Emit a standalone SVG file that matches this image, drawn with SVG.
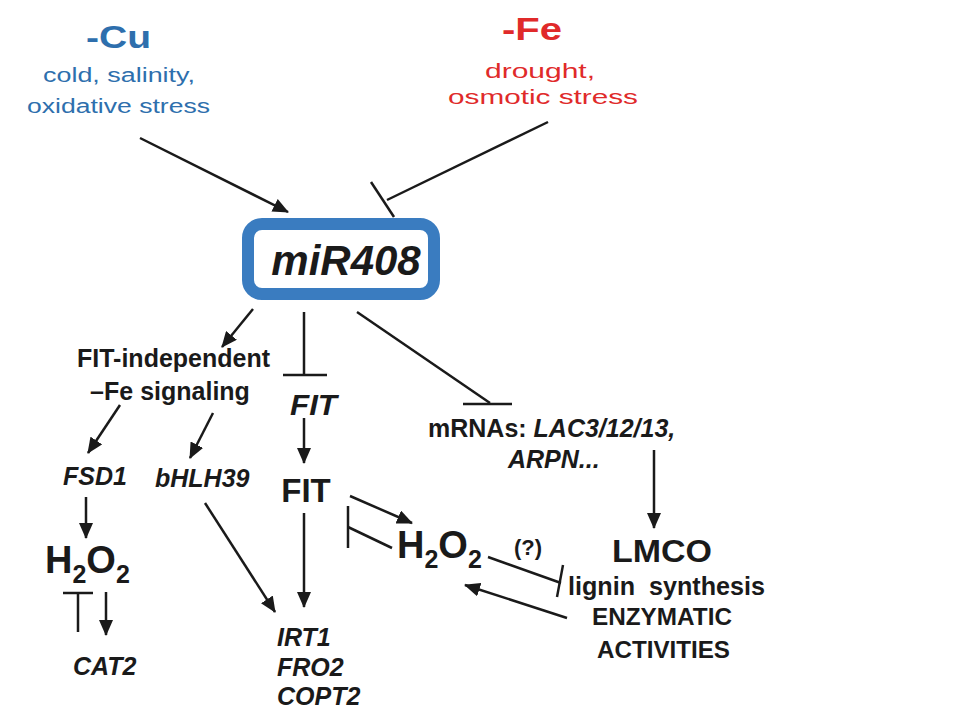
<svg xmlns="http://www.w3.org/2000/svg" width="960" height="720" viewBox="0 0 960 720">
<defs>
<style>
.t{font-family:"Liberation Sans",Arial,sans-serif;font-weight:bold;fill:#1a1a1a}
.i{font-style:italic}
.blue{font-family:"Liberation Sans",Arial,sans-serif;fill:#2e6fad}
.red{font-family:"Liberation Sans",Arial,sans-serif;fill:#e02a2a}
.c{stroke:#1a1a1a;stroke-width:2.5;fill:none}
</style>
<marker id="ah" markerWidth="16" markerHeight="14" refX="15" refY="7" orient="auto" markerUnits="userSpaceOnUse"><path d="M0,0 L16,7 L0,14 z" fill="#1a1a1a"/></marker>
</defs>
<rect width="960" height="720" fill="#fff"/>
<g id="cu">
<text class="blue" x="86" y="48" font-size="31" font-weight="bold" textLength="65" lengthAdjust="spacingAndGlyphs">-Cu</text>
<text class="blue" x="43" y="82" font-size="20" textLength="152" lengthAdjust="spacingAndGlyphs">cold, salinity,</text>
<text class="blue" x="27" y="113" font-size="20" textLength="183" lengthAdjust="spacingAndGlyphs">oxidative stress</text>
</g>
<g id="fe">
<text class="red" x="502" y="40" font-size="32" font-weight="bold" textLength="60" lengthAdjust="spacingAndGlyphs">-Fe</text>
<text class="red" x="485" y="78" font-size="20" textLength="110" lengthAdjust="spacingAndGlyphs">drought,</text>
<text class="red" x="448" y="104" font-size="20" textLength="190" lengthAdjust="spacingAndGlyphs">osmotic stress</text>
</g>
<g id="mir408">
<rect x="248" y="224" width="186" height="70" rx="14" fill="#fff" stroke="#3a7cc0" stroke-width="12"/>
<text class="t i" x="346" y="275" font-size="42" text-anchor="middle">miR408</text>
</g>
<g id="fitind">
<text class="t" x="77" y="367" font-size="25" textLength="193" lengthAdjust="spacingAndGlyphs">FIT-independent</text>
<text class="t" x="170" y="400" font-size="25" text-anchor="middle">–Fe signaling</text>
</g>
<g id="fit-gene"><text class="t i" x="290" y="415" font-size="29" textLength="47" lengthAdjust="spacingAndGlyphs">FIT</text></g>
<g id="mrnas">
<text class="t" x="428" y="437" font-size="25">mRNAs: <tspan class="i">LAC3/12/13,</tspan></text>
<text class="t i" x="508" y="468" font-size="25">ARPN...</text>
</g>
<g id="fsd1"><text class="t i" x="63" y="485" font-size="25">FSD1</text></g>
<g id="bhlh39"><text class="t i" x="155" y="487" font-size="25">bHLH39</text></g>
<g id="fit"><text class="t" x="306" y="502" font-size="33" text-anchor="middle">FIT</text></g>
<g id="h2o2-left"><text class="t" x="45" y="573" font-size="38">H<tspan font-size="25" dy="10">2</tspan><tspan dy="-10">O</tspan><tspan font-size="25" dy="10">2</tspan></text></g>
<g id="cat2"><text class="t i" x="73" y="675" font-size="25">CAT2</text></g>
<g id="targets">
<text class="t i" x="277" y="646" font-size="25">IRT1</text>
<text class="t i" x="277" y="676" font-size="25">FRO2</text>
<text class="t i" x="277" y="705" font-size="25">COPT2</text>
</g>
<g id="h2o2-right"><text class="t" x="397" y="558" font-size="38">H<tspan font-size="25" dy="10">2</tspan><tspan dy="-10">O</tspan><tspan font-size="25" dy="10">2</tspan></text></g>
<g id="q"><text class="t" x="528" y="555" font-size="22" text-anchor="middle">(?)</text></g>
<g id="lmco">
<text class="t" x="662" y="562" font-size="32" text-anchor="middle" textLength="100" lengthAdjust="spacingAndGlyphs">LMCO</text>
<text class="t" x="568" y="595" font-size="25" textLength="197" lengthAdjust="spacingAndGlyphs" xml:space="preserve">lignin  synthesis</text>
<text class="t" x="592" y="625" font-size="24" textLength="140" lengthAdjust="spacingAndGlyphs">ENZYMATIC</text>
<text class="t" x="597" y="658" font-size="24" textLength="133" lengthAdjust="spacingAndGlyphs">ACTIVITIES</text>
</g>
<g id="connectors" class="c">
<line x1="140" y1="138" x2="288" y2="212" marker-end="url(#ah)"/>
<line x1="548" y1="122" x2="387" y2="200"/>
<line x1="371" y1="182" x2="394" y2="217"/>
<line x1="253" y1="309" x2="222" y2="347" marker-end="url(#ah)"/>
<line x1="304" y1="312" x2="304" y2="375"/>
<line x1="283" y1="375" x2="327" y2="375"/>
<line x1="357" y1="312" x2="490" y2="403"/>
<line x1="463" y1="404" x2="512" y2="404"/>
<line x1="120" y1="405" x2="88" y2="453" marker-end="url(#ah)"/>
<line x1="213" y1="413" x2="190" y2="458" marker-end="url(#ah)"/>
<line x1="304" y1="418" x2="304" y2="463" marker-end="url(#ah)"/>
<line x1="86" y1="497" x2="86" y2="538" marker-end="url(#ah)"/>
<line x1="63" y1="593" x2="93" y2="593"/>
<line x1="78" y1="593" x2="78" y2="632"/>
<line x1="106" y1="592" x2="106" y2="635" marker-end="url(#ah)"/>
<line x1="205" y1="503" x2="275" y2="612" marker-end="url(#ah)"/>
<line x1="304" y1="513" x2="304" y2="607" marker-end="url(#ah)"/>
<line x1="350" y1="496" x2="412" y2="523" marker-end="url(#ah)"/>
<line x1="348" y1="506" x2="348" y2="548"/>
<line x1="348" y1="527" x2="392" y2="548"/>
<line x1="654" y1="450" x2="654" y2="528" marker-end="url(#ah)"/>
<line x1="488" y1="557" x2="561" y2="583"/>
<line x1="563" y1="565" x2="557" y2="597"/>
<line x1="567" y1="618" x2="465" y2="585" marker-end="url(#ah)"/>
</g>
</svg>
